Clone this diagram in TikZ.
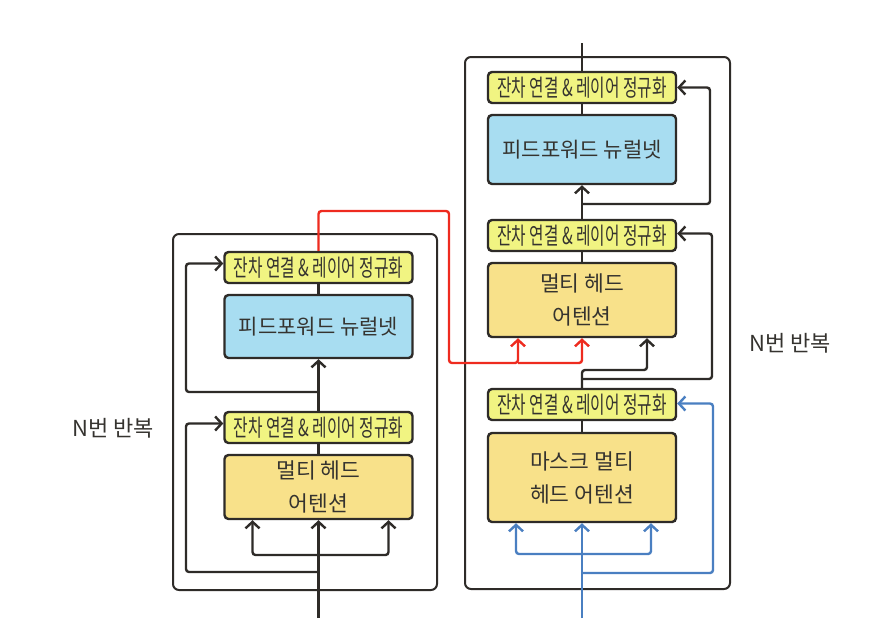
\documentclass[tikz,border=0pt]{standalone}
\usepackage{fontspec}
\setmainfont{Noto Sans CJK KR}
\newfontfamily\lnfont[FakeStretch=0.67]{Noto Sans CJK KR}
\usetikzlibrary{arrows.meta,calc}
\definecolor{lnfill}{HTML}{F1F482}
\definecolor{ffnfill}{HTML}{A8DDF1}
\definecolor{mhafill}{HTML}{F8E18A}
\definecolor{ink}{HTML}{2E2B28}
\definecolor{txt}{HTML}{35332F}
\definecolor{redline}{HTML}{EE2B1F}
\definecolor{blueline}{HTML}{4A7FC1}
\tikzset{
  box/.style={draw=ink, line width=2.4pt, rounded corners=4pt, inner sep=0pt, text=txt, minimum width=188pt},
  lnbox/.style={box, fill=lnfill, minimum height=31pt, font=\lnfont\fontsize{23.5}{24}\selectfont},
  ffnbox/.style={box, fill=ffnfill, font=\fontsize{21}{24}\selectfont},
  mhabox/.style={box, fill=mhafill, align=center, font=\fontsize{21.5}{33}\selectfont},
  outerbox/.style={draw=ink, line width=2pt, rounded corners=6pt, fill=white},
  conn/.style={draw=ink, line width=2.4pt, rounded corners=3pt},
  arr/.style={conn, -{Straight Barb[length=6.5pt,width=14pt]}},
  redarr/.style={arr, draw=redline},
  bluearr/.style={arr, draw=blueline},
  lbl/.style={text=txt, font=\fontsize{22}{24}\selectfont, inner sep=0pt}
}
\begin{document}
\begin{tikzpicture}[x=1pt,y=-1pt]
\useasboundingbox (0,0) rectangle (872,630);
% outer boxes
\node[outerbox, minimum width=264pt, minimum height=356pt] (encL) at (305,412) {};
\node[outerbox, minimum width=265pt, minimum height=532pt] (decR) at (597.5,323) {};
% left encoder nodes
\node[lnbox] (lnL2) at (318.5,267.5) {잔차 연결 \& 레이어 정규화};
\node[ffnbox, minimum height=63pt] (ffnL) at (318.5,326.5) {피드포워드 뉴럴넷};
\node[lnbox] (lnL1) at (318.5,427.5) {잔차 연결 \& 레이어 정규화};
\node[mhabox, minimum height=64pt] (mhaL) at (318.5,487) {멀티 헤드\\어텐션};
% right decoder nodes
\node[lnbox] (lnR3) at (582,87.5) {잔차 연결 \& 레이어 정규화};
\node[ffnbox, minimum height=69pt] (ffnR) at (582,149.5) {피드포워드 뉴럴넷};
\node[lnbox] (lnR2) at (582,235.5) {잔차 연결 \& 레이어 정규화};
\node[mhabox, minimum height=74pt] (mhaR) at (582,300) {멀티 헤드\\어텐션};
\node[lnbox] (lnR1) at (582,404.5) {잔차 연결 \& 레이어 정규화};
\node[mhabox, minimum height=89pt] (mmhaR) at (582,477.5) {마스크 멀티\\헤드 어텐션};
% labels
\node[lbl] (repL) at (113,428) {N번 반복};
\node[lbl] (repR) at (790,343) {N번 반복};
% coordinates
\coordinate (inL) at (318.5,618);
\coordinate (sL) at (318.5,555);
\coordinate (jL1) at (318.5,572);
\coordinate (jL2) at (318.5,392);
\coordinate (inR) at (582,618);
\coordinate (sR) at (582,554);
\coordinate (jR1) at (582,573);
\coordinate (jR2) at (582,379);
\coordinate (jR3) at (582,204);
\coordinate (outR) at (582,43);
% left connectors
\draw[arr] (inL) -- (mhaL.south);
\draw[arr] (sL) -| ([xshift=-66]mhaL.south);
\draw[arr] (sL) -| ([xshift=70]mhaL.south);
\draw[conn] (mhaL.north) -- (lnL1.south);
\draw[arr] (lnL1.north) -- (ffnL.south);
\draw[conn] (ffnL.north) -- (lnL2.south);
\draw[arr] (jL1) -- (186,572) |- ([yshift=4]lnL1.west);
\draw[arr] (jL2) -- (186,392) |- ([yshift=4]lnL2.west);
% cross connector
\draw[redarr] (lnL2.north) |- (449,211) |- (518,363) -- ([xshift=-64]mhaR.south);
\draw[redarr] (518,363) -| (mhaR.south);
% right connectors
\draw[bluearr] (inR) -- (mmhaR.south);
\draw[bluearr] (sR) -| ([xshift=-66]mmhaR.south);
\draw[bluearr] (sR) -| ([xshift=69]mmhaR.south);
\draw[bluearr] (jR1) -- (713,573) |- ([yshift=1]lnR1.east);
\draw[conn] (mmhaR.north) -- (lnR1.south);
\draw[arr] (lnR1.north) -- (582,370) -| ([xshift=65]mhaR.south);
\draw[arr] (jR2) -- (712,379) |- ([yshift=2]lnR2.east);
\draw[conn] (mhaR.north) -- (lnR2.south);
\draw[arr] (lnR2.north) -- (ffnR.south);
\draw[arr] (jR3) -- (710,204) |- (lnR3.east);
\draw[conn] (ffnR.north) -- (lnR3.south);
\draw[conn] (lnR3.north) -- (outR);
\end{tikzpicture}
\end{document}
